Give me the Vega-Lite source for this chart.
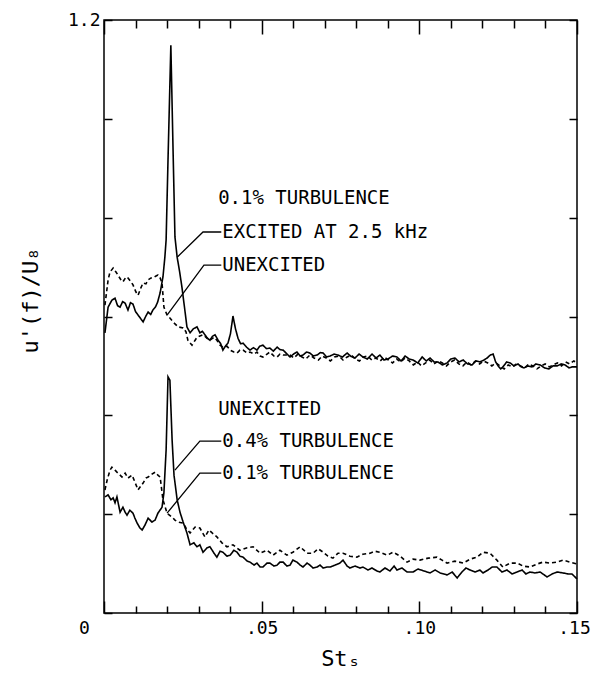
{
  "$schema": "https://vega.github.io/schema/vega-lite/v6.json",
  "width": 473,
  "height": 593,
  "autosize": "none",
  "padding": {"left": 104, "top": 20, "right": 16, "bottom": 77},
  "background": "white",
  "config": {
    "view": {"stroke": "black", "strokeWidth": 1.5},
    "font": "DejaVu Sans Mono",
    "axis": {"labelFont": "DejaVu Sans Mono", "titleFont": "DejaVu Sans Mono", "labelColor": "black", "titleColor": "black", "tickColor": "black", "domain": false, "grid": false, "ticks": true, "titleFontWeight": "normal"}
  },
  "datasets": {
    "curves": [
      {"series":"A","St":0.0003,"u":0.567},{"series":"A","St":0.0013,"u":0.619},{"series":"A","St":0.0025,"u":0.633},{"series":"A","St":0.0035,"u":0.637},{"series":"A","St":0.0043,"u":0.622},{"series":"A","St":0.0051,"u":0.619},{"series":"A","St":0.0059,"u":0.630},{"series":"A","St":0.0067,"u":0.627},{"series":"A","St":0.0076,"u":0.613},{"series":"A","St":0.0084,"u":0.628},{"series":"A","St":0.0092,"u":0.625},{"series":"A","St":0.0100,"u":0.610},{"series":"A","St":0.0108,"u":0.603},{"series":"A","St":0.0116,"u":0.596},{"series":"A","St":0.0124,"u":0.589},{"series":"A","St":0.0132,"u":0.600},{"series":"A","St":0.0140,"u":0.609},{"series":"A","St":0.0148,"u":0.604},{"series":"A","St":0.0155,"u":0.613},{"series":"A","St":0.0163,"u":0.619},{"series":"A","St":0.0170,"u":0.629},{"series":"A","St":0.0178,"u":0.648},{"series":"A","St":0.0187,"u":0.680},{"series":"A","St":0.0193,"u":0.720},{"series":"A","St":0.0197,"u":0.755},{"series":"A","St":0.0203,"u":0.917},{"series":"A","St":0.0212,"u":1.149},{"series":"A","St":0.0219,"u":0.937},{"series":"A","St":0.0225,"u":0.761},{"series":"A","St":0.0232,"u":0.720},{"series":"A","St":0.0240,"u":0.690},{"series":"A","St":0.0247,"u":0.660},{"series":"A","St":0.0255,"u":0.620},{"series":"A","St":0.0263,"u":0.579},{"series":"A","St":0.0273,"u":0.567},{"series":"A","St":0.0283,"u":0.575},{"series":"A","St":0.0295,"u":0.579},{"series":"A","St":0.0304,"u":0.567},{"series":"A","St":0.0312,"u":0.570},{"series":"A","St":0.0320,"u":0.563},{"series":"A","St":0.0328,"u":0.556},{"series":"A","St":0.0336,"u":0.552},{"series":"A","St":0.0344,"u":0.560},{"series":"A","St":0.0352,"u":0.563},{"series":"A","St":0.0362,"u":0.552},{"series":"A","St":0.0370,"u":0.545},{"series":"A","St":0.0377,"u":0.532},{"series":"A","St":0.0385,"u":0.540},{"series":"A","St":0.0393,"u":0.546},{"series":"A","St":0.0401,"u":0.565},{"series":"A","St":0.0409,"u":0.601},{"series":"A","St":0.0417,"u":0.575},{"series":"A","St":0.0425,"u":0.556},{"series":"A","St":0.0433,"u":0.545},{"series":"A","St":0.0441,"u":0.546},{"series":"A","St":0.0452,"u":0.538},{"series":"A","St":0.0463,"u":0.532},{"series":"A","St":0.0474,"u":0.537},{"series":"A","St":0.0485,"u":0.532},{"series":"A","St":0.0494,"u":0.540},{"series":"A","St":0.0504,"u":0.542},{"series":"A","St":0.0515,"u":0.535},{"series":"A","St":0.0526,"u":0.536},{"series":"A","St":0.0537,"u":0.530},{"series":"A","St":0.0549,"u":0.538},{"series":"A","St":0.0558,"u":0.533},{"series":"A","St":0.0568,"u":0.532},{"series":"A","St":0.0579,"u":0.525},{"series":"A","St":0.0590,"u":0.518},{"series":"A","St":0.0601,"u":0.524},{"series":"A","St":0.0612,"u":0.528},{"series":"A","St":0.0622,"u":0.520},{"series":"A","St":0.0631,"u":0.522},{"series":"A","St":0.0642,"u":0.528},{"series":"A","St":0.0653,"u":0.526},{"series":"A","St":0.0664,"u":0.520},{"series":"A","St":0.0676,"u":0.522},{"series":"A","St":0.0686,"u":0.527},{"series":"A","St":0.0695,"u":0.526},{"series":"A","St":0.0706,"u":0.518},{"series":"A","St":0.0717,"u":0.520},{"series":"A","St":0.0730,"u":0.524},{"series":"A","St":0.0742,"u":0.522},{"series":"A","St":0.0756,"u":0.518},{"series":"A","St":0.0771,"u":0.526},{"series":"A","St":0.0784,"u":0.519},{"series":"A","St":0.0796,"u":0.516},{"series":"A","St":0.0809,"u":0.524},{"series":"A","St":0.0821,"u":0.518},{"series":"A","St":0.0835,"u":0.514},{"series":"A","St":0.0850,"u":0.524},{"series":"A","St":0.0863,"u":0.516},{"series":"A","St":0.0875,"u":0.522},{"series":"A","St":0.0888,"u":0.512},{"series":"A","St":0.0901,"u":0.514},{"series":"A","St":0.0915,"u":0.520},{"series":"A","St":0.0929,"u":0.518},{"series":"A","St":0.0942,"u":0.510},{"series":"A","St":0.0955,"u":0.520},{"series":"A","St":0.0968,"u":0.514},{"series":"A","St":0.0980,"u":0.512},{"series":"A","St":0.0995,"u":0.506},{"series":"A","St":0.1009,"u":0.518},{"series":"A","St":0.1022,"u":0.510},{"series":"A","St":0.1034,"u":0.516},{"series":"A","St":0.1047,"u":0.508},{"series":"A","St":0.1059,"u":0.508},{"series":"A","St":0.1073,"u":0.502},{"series":"A","St":0.1088,"u":0.506},{"series":"A","St":0.1100,"u":0.514},{"series":"A","St":0.1113,"u":0.516},{"series":"A","St":0.1126,"u":0.508},{"series":"A","St":0.1139,"u":0.512},{"series":"A","St":0.1153,"u":0.504},{"series":"A","St":0.1167,"u":0.502},{"series":"A","St":0.1180,"u":0.510},{"series":"A","St":0.1192,"u":0.508},{"series":"A","St":0.1205,"u":0.512},{"series":"A","St":0.1215,"u":0.516},{"series":"A","St":0.1225,"u":0.522},{"series":"A","St":0.1234,"u":0.524},{"series":"A","St":0.1242,"u":0.508},{"series":"A","St":0.1250,"u":0.500},{"series":"A","St":0.1258,"u":0.494},{"series":"A","St":0.1265,"u":0.498},{"series":"A","St":0.1277,"u":0.508},{"series":"A","St":0.1288,"u":0.506},{"series":"A","St":0.1300,"u":0.500},{"series":"A","St":0.1313,"u":0.504},{"series":"A","St":0.1323,"u":0.498},{"series":"A","St":0.1332,"u":0.496},{"series":"A","St":0.1345,"u":0.500},{"series":"A","St":0.1357,"u":0.498},{"series":"A","St":0.1370,"u":0.504},{"series":"A","St":0.1383,"u":0.502},{"series":"A","St":0.1397,"u":0.496},{"series":"A","St":0.1411,"u":0.494},{"series":"A","St":0.1424,"u":0.500},{"series":"A","St":0.1437,"u":0.500},{"series":"A","St":0.1450,"u":0.504},{"series":"A","St":0.1462,"u":0.502},{"series":"A","St":0.1475,"u":0.496},{"series":"A","St":0.1484,"u":0.498},{"series":"A","St":0.1500,"u":0.498},

      {"series":"B","St":0.0003,"u":0.623},{"series":"B","St":0.0013,"u":0.674},{"series":"B","St":0.0019,"u":0.690},{"series":"B","St":0.0029,"u":0.698},{"series":"B","St":0.0038,"u":0.690},{"series":"B","St":0.0044,"u":0.684},{"series":"B","St":0.0054,"u":0.674},{"series":"B","St":0.0060,"u":0.670},{"series":"B","St":0.0070,"u":0.680},{"series":"B","St":0.0076,"u":0.678},{"series":"B","St":0.0086,"u":0.670},{"series":"B","St":0.0092,"u":0.664},{"series":"B","St":0.0101,"u":0.650},{"series":"B","St":0.0108,"u":0.643},{"series":"B","St":0.0117,"u":0.658},{"series":"B","St":0.0124,"u":0.668},{"series":"B","St":0.0133,"u":0.666},{"series":"B","St":0.0140,"u":0.674},{"series":"B","St":0.0149,"u":0.678},{"series":"B","St":0.0155,"u":0.678},{"series":"B","St":0.0165,"u":0.682},{"series":"B","St":0.0171,"u":0.684},{"series":"B","St":0.0178,"u":0.678},{"series":"B","St":0.0184,"u":0.668},{"series":"B","St":0.0190,"u":0.619},{"series":"B","St":0.0200,"u":0.603},{"series":"B","St":0.0209,"u":0.597},{"series":"B","St":0.0219,"u":0.589},{"series":"B","St":0.0235,"u":0.579},{"series":"B","St":0.0251,"u":0.577},{"series":"B","St":0.0260,"u":0.569},{"series":"B","St":0.0266,"u":0.552},{"series":"B","St":0.0279,"u":0.542},{"series":"B","St":0.0289,"u":0.552},{"series":"B","St":0.0295,"u":0.558},{"series":"B","St":0.0314,"u":0.563},{"series":"B","St":0.0327,"u":0.556},{"series":"B","St":0.0336,"u":0.552},{"series":"B","St":0.0349,"u":0.558},{"series":"B","St":0.0358,"u":0.552},{"series":"B","St":0.0368,"u":0.542},{"series":"B","St":0.0377,"u":0.538},{"series":"B","St":0.0390,"u":0.540},{"series":"B","St":0.0400,"u":0.532},{"series":"B","St":0.0412,"u":0.528},{"series":"B","St":0.0422,"u":0.526},{"series":"B","St":0.0431,"u":0.532},{"series":"B","St":0.0441,"u":0.532},{"series":"B","St":0.0454,"u":0.526},{"series":"B","St":0.0463,"u":0.528},{"series":"B","St":0.0476,"u":0.524},{"series":"B","St":0.0485,"u":0.528},{"series":"B","St":0.0495,"u":0.520},{"series":"B","St":0.0504,"u":0.518},{"series":"B","St":0.0517,"u":0.524},{"series":"B","St":0.0526,"u":0.528},{"series":"B","St":0.0539,"u":0.520},{"series":"B","St":0.0549,"u":0.518},{"series":"B","St":0.0558,"u":0.524},{"series":"B","St":0.0568,"u":0.522},{"series":"B","St":0.0590,"u":0.522},{"series":"B","St":0.0602,"u":0.516},{"series":"B","St":0.0615,"u":0.524},{"series":"B","St":0.0628,"u":0.518},{"series":"B","St":0.0640,"u":0.514},{"series":"B","St":0.0653,"u":0.522},{"series":"B","St":0.0666,"u":0.516},{"series":"B","St":0.0680,"u":0.512},{"series":"B","St":0.0692,"u":0.520},{"series":"B","St":0.0705,"u":0.516},{"series":"B","St":0.0718,"u":0.510},{"series":"B","St":0.0731,"u":0.518},{"series":"B","St":0.0745,"u":0.520},{"series":"B","St":0.0758,"u":0.512},{"series":"B","St":0.0771,"u":0.518},{"series":"B","St":0.0784,"u":0.522},{"series":"B","St":0.0797,"u":0.514},{"series":"B","St":0.0810,"u":0.510},{"series":"B","St":0.0823,"u":0.518},{"series":"B","St":0.0836,"u":0.520},{"series":"B","St":0.0849,"u":0.512},{"series":"B","St":0.0862,"u":0.516},{"series":"B","St":0.0876,"u":0.510},{"series":"B","St":0.0889,"u":0.518},{"series":"B","St":0.0902,"u":0.512},{"series":"B","St":0.0915,"u":0.506},{"series":"B","St":0.0928,"u":0.514},{"series":"B","St":0.0941,"u":0.508},{"series":"B","St":0.0955,"u":0.516},{"series":"B","St":0.0968,"u":0.510},{"series":"B","St":0.0981,"u":0.502},{"series":"B","St":0.0994,"u":0.508},{"series":"B","St":0.1007,"u":0.500},{"series":"B","St":0.1020,"u":0.506},{"series":"B","St":0.1033,"u":0.512},{"series":"B","St":0.1046,"u":0.504},{"series":"B","St":0.1060,"u":0.510},{"series":"B","St":0.1073,"u":0.506},{"series":"B","St":0.1086,"u":0.500},{"series":"B","St":0.1099,"u":0.508},{"series":"B","St":0.1112,"u":0.512},{"series":"B","St":0.1125,"u":0.504},{"series":"B","St":0.1138,"u":0.500},{"series":"B","St":0.1151,"u":0.508},{"series":"B","St":0.1164,"u":0.502},{"series":"B","St":0.1178,"u":0.510},{"series":"B","St":0.1191,"u":0.504},{"series":"B","St":0.1204,"u":0.510},{"series":"B","St":0.1217,"u":0.506},{"series":"B","St":0.1230,"u":0.500},{"series":"B","St":0.1243,"u":0.506},{"series":"B","St":0.1256,"u":0.500},{"series":"B","St":0.1269,"u":0.494},{"series":"B","St":0.1282,"u":0.502},{"series":"B","St":0.1295,"u":0.498},{"series":"B","St":0.1308,"u":0.504},{"series":"B","St":0.1321,"u":0.500},{"series":"B","St":0.1334,"u":0.496},{"series":"B","St":0.1347,"u":0.504},{"series":"B","St":0.1360,"u":0.500},{"series":"B","St":0.1373,"u":0.494},{"series":"B","St":0.1386,"u":0.500},{"series":"B","St":0.1399,"u":0.504},{"series":"B","St":0.1412,"u":0.498},{"series":"B","St":0.1425,"u":0.502},{"series":"B","St":0.1438,"u":0.506},{"series":"B","St":0.1451,"u":0.500},{"series":"B","St":0.1464,"u":0.508},{"series":"B","St":0.1477,"u":0.504},{"series":"B","St":0.1490,"u":0.510},{"series":"B","St":0.1500,"u":0.506},

      {"series":"C","St":0.0003,"u":0.235},{"series":"C","St":0.0013,"u":0.239},{"series":"C","St":0.0022,"u":0.229},{"series":"C","St":0.0029,"u":0.233},{"series":"C","St":0.0035,"u":0.223},{"series":"C","St":0.0041,"u":0.235},{"series":"C","St":0.0051,"u":0.204},{"series":"C","St":0.0060,"u":0.214},{"series":"C","St":0.0067,"u":0.204},{"series":"C","St":0.0073,"u":0.198},{"series":"C","St":0.0082,"u":0.208},{"series":"C","St":0.0092,"u":0.202},{"series":"C","St":0.0098,"u":0.192},{"series":"C","St":0.0105,"u":0.182},{"series":"C","St":0.0114,"u":0.172},{"series":"C","St":0.0121,"u":0.168},{"series":"C","St":0.0130,"u":0.178},{"series":"C","St":0.0140,"u":0.192},{"series":"C","St":0.0152,"u":0.184},{"series":"C","St":0.0162,"u":0.188},{"series":"C","St":0.0171,"u":0.202},{"series":"C","St":0.0184,"u":0.214},{"series":"C","St":0.0190,"u":0.243},{"series":"C","St":0.0197,"u":0.330},{"series":"C","St":0.0203,"u":0.478},{"series":"C","St":0.0209,"u":0.471},{"series":"C","St":0.0216,"u":0.350},{"series":"C","St":0.0222,"u":0.279},{"series":"C","St":0.0232,"u":0.229},{"series":"C","St":0.0241,"u":0.204},{"series":"C","St":0.0251,"u":0.184},{"series":"C","St":0.0263,"u":0.162},{"series":"C","St":0.0273,"u":0.138},{"series":"C","St":0.0285,"u":0.142},{"series":"C","St":0.0295,"u":0.134},{"series":"C","St":0.0304,"u":0.138},{"series":"C","St":0.0314,"u":0.123},{"series":"C","St":0.0327,"u":0.132},{"series":"C","St":0.0336,"u":0.134},{"series":"C","St":0.0349,"u":0.121},{"series":"C","St":0.0358,"u":0.113},{"series":"C","St":0.0368,"u":0.125},{"series":"C","St":0.0377,"u":0.123},{"series":"C","St":0.0390,"u":0.115},{"series":"C","St":0.0400,"u":0.117},{"series":"C","St":0.0412,"u":0.127},{"series":"C","St":0.0422,"u":0.123},{"series":"C","St":0.0431,"u":0.115},{"series":"C","St":0.0441,"u":0.113},{"series":"C","St":0.0454,"u":0.105},{"series":"C","St":0.0463,"u":0.103},{"series":"C","St":0.0476,"u":0.097},{"series":"C","St":0.0485,"u":0.101},{"series":"C","St":0.0495,"u":0.093},{"series":"C","St":0.0504,"u":0.093},{"series":"C","St":0.0517,"u":0.101},{"series":"C","St":0.0526,"u":0.101},{"series":"C","St":0.0539,"u":0.095},{"series":"C","St":0.0549,"u":0.097},{"series":"C","St":0.0558,"u":0.103},{"series":"C","St":0.0568,"u":0.103},{"series":"C","St":0.0580,"u":0.095},{"series":"C","St":0.0590,"u":0.097},{"series":"C","St":0.0599,"u":0.107},{"series":"C","St":0.0612,"u":0.103},{"series":"C","St":0.0622,"u":0.097},{"series":"C","St":0.0631,"u":0.093},{"series":"C","St":0.0644,"u":0.101},{"series":"C","St":0.0653,"u":0.097},{"series":"C","St":0.0663,"u":0.091},{"series":"C","St":0.0676,"u":0.093},{"series":"C","St":0.0685,"u":0.097},{"series":"C","St":0.0695,"u":0.091},{"series":"C","St":0.0707,"u":0.093},{"series":"C","St":0.0717,"u":0.093},{"series":"C","St":0.0733,"u":0.097},{"series":"C","St":0.0748,"u":0.101},{"series":"C","St":0.0758,"u":0.107},{"series":"C","St":0.0771,"u":0.095},{"series":"C","St":0.0780,"u":0.091},{"series":"C","St":0.0796,"u":0.095},{"series":"C","St":0.0812,"u":0.091},{"series":"C","St":0.0821,"u":0.093},{"series":"C","St":0.0837,"u":0.087},{"series":"C","St":0.0850,"u":0.091},{"series":"C","St":0.0866,"u":0.085},{"series":"C","St":0.0875,"u":0.083},{"series":"C","St":0.0891,"u":0.091},{"series":"C","St":0.0907,"u":0.085},{"series":"C","St":0.0920,"u":0.095},{"series":"C","St":0.0929,"u":0.087},{"series":"C","St":0.0945,"u":0.091},{"series":"C","St":0.0961,"u":0.083},{"series":"C","St":0.0980,"u":0.083},{"series":"C","St":0.0996,"u":0.089},{"series":"C","St":0.1015,"u":0.085},{"series":"C","St":0.1034,"u":0.081},{"series":"C","St":0.1050,"u":0.087},{"series":"C","St":0.1066,"u":0.081},{"series":"C","St":0.1088,"u":0.077},{"series":"C","St":0.1104,"u":0.083},{"series":"C","St":0.1120,"u":0.071},{"series":"C","St":0.1135,"u":0.083},{"series":"C","St":0.1148,"u":0.091},{"series":"C","St":0.1161,"u":0.087},{"series":"C","St":0.1177,"u":0.083},{"series":"C","St":0.1192,"u":0.087},{"series":"C","St":0.1202,"u":0.081},{"series":"C","St":0.1218,"u":0.087},{"series":"C","St":0.1231,"u":0.093},{"series":"C","St":0.1246,"u":0.093},{"series":"C","St":0.1262,"u":0.083},{"series":"C","St":0.1278,"u":0.087},{"series":"C","St":0.1294,"u":0.079},{"series":"C","St":0.1310,"u":0.083},{"series":"C","St":0.1326,"u":0.087},{"series":"C","St":0.1338,"u":0.079},{"series":"C","St":0.1351,"u":0.083},{"series":"C","St":0.1367,"u":0.081},{"series":"C","St":0.1383,"u":0.083},{"series":"C","St":0.1405,"u":0.073},{"series":"C","St":0.1421,"u":0.079},{"series":"C","St":0.1437,"u":0.083},{"series":"C","St":0.1456,"u":0.081},{"series":"C","St":0.1472,"u":0.079},{"series":"C","St":0.1484,"u":0.079},{"series":"C","St":0.1500,"u":0.069},

      {"series":"D","St":0.0003,"u":0.249},{"series":"D","St":0.0010,"u":0.269},{"series":"D","St":0.0019,"u":0.289},{"series":"D","St":0.0025,"u":0.295},{"series":"D","St":0.0035,"u":0.289},{"series":"D","St":0.0041,"u":0.285},{"series":"D","St":0.0051,"u":0.279},{"series":"D","St":0.0057,"u":0.275},{"series":"D","St":0.0067,"u":0.283},{"series":"D","St":0.0076,"u":0.273},{"series":"D","St":0.0089,"u":0.279},{"series":"D","St":0.0098,"u":0.265},{"series":"D","St":0.0108,"u":0.249},{"series":"D","St":0.0117,"u":0.257},{"series":"D","St":0.0124,"u":0.263},{"series":"D","St":0.0133,"u":0.273},{"series":"D","St":0.0140,"u":0.275},{"series":"D","St":0.0152,"u":0.281},{"series":"D","St":0.0162,"u":0.285},{"series":"D","St":0.0171,"u":0.279},{"series":"D","St":0.0178,"u":0.275},{"series":"D","St":0.0187,"u":0.229},{"series":"D","St":0.0200,"u":0.202},{"series":"D","St":0.0216,"u":0.194},{"series":"D","St":0.0225,"u":0.188},{"series":"D","St":0.0235,"u":0.184},{"series":"D","St":0.0251,"u":0.182},{"series":"D","St":0.0260,"u":0.172},{"series":"D","St":0.0273,"u":0.162},{"series":"D","St":0.0289,"u":0.174},{"series":"D","St":0.0304,"u":0.172},{"series":"D","St":0.0320,"u":0.154},{"series":"D","St":0.0333,"u":0.168},{"series":"D","St":0.0343,"u":0.162},{"series":"D","St":0.0358,"u":0.154},{"series":"D","St":0.0374,"u":0.142},{"series":"D","St":0.0390,"u":0.134},{"series":"D","St":0.0409,"u":0.138},{"series":"D","St":0.0431,"u":0.127},{"series":"D","St":0.0454,"u":0.132},{"series":"D","St":0.0473,"u":0.134},{"series":"D","St":0.0495,"u":0.121},{"series":"D","St":0.0517,"u":0.127},{"series":"D","St":0.0536,"u":0.117},{"series":"D","St":0.0558,"u":0.127},{"series":"D","St":0.0580,"u":0.117},{"series":"D","St":0.0599,"u":0.123},{"series":"D","St":0.0622,"u":0.134},{"series":"D","St":0.0644,"u":0.121},{"series":"D","St":0.0663,"u":0.121},{"series":"D","St":0.0679,"u":0.130},{"series":"D","St":0.0695,"u":0.123},{"series":"D","St":0.0710,"u":0.115},{"series":"D","St":0.0726,"u":0.111},{"series":"D","St":0.0742,"u":0.121},{"series":"D","St":0.0758,"u":0.121},{"series":"D","St":0.0780,"u":0.115},{"series":"D","St":0.0802,"u":0.113},{"series":"D","St":0.0821,"u":0.119},{"series":"D","St":0.0844,"u":0.121},{"series":"D","St":0.0859,"u":0.125},{"series":"D","St":0.0875,"u":0.123},{"series":"D","St":0.0898,"u":0.117},{"series":"D","St":0.0917,"u":0.123},{"series":"D","St":0.0939,"u":0.115},{"series":"D","St":0.0961,"u":0.103},{"series":"D","St":0.0980,"u":0.109},{"series":"D","St":0.1002,"u":0.107},{"series":"D","St":0.1028,"u":0.111},{"series":"D","St":0.1056,"u":0.113},{"series":"D","St":0.1072,"u":0.107},{"series":"D","St":0.1088,"u":0.101},{"series":"D","St":0.1113,"u":0.105},{"series":"D","St":0.1139,"u":0.101},{"series":"D","St":0.1161,"u":0.109},{"series":"D","St":0.1183,"u":0.113},{"series":"D","St":0.1202,"u":0.123},{"series":"D","St":0.1224,"u":0.121},{"series":"D","St":0.1246,"u":0.107},{"series":"D","St":0.1265,"u":0.093},{"series":"D","St":0.1288,"u":0.101},{"series":"D","St":0.1310,"u":0.101},{"series":"D","St":0.1329,"u":0.095},{"series":"D","St":0.1351,"u":0.093},{"series":"D","St":0.1373,"u":0.099},{"series":"D","St":0.1392,"u":0.103},{"series":"D","St":0.1415,"u":0.101},{"series":"D","St":0.1437,"u":0.103},{"series":"D","St":0.1456,"u":0.107},{"series":"D","St":0.1478,"u":0.103},{"series":"D","St":0.1500,"u":0.099}
    ],
    "labels": [
      {"label": "0.1% TURBULENCE", "St": 0.0362, "u": 0.840},
      {"label": "EXCITED AT 2.5 kHz", "St": 0.0375, "u": 0.771},
      {"label": "UNEXCITED", "St": 0.0375, "u": 0.704},
      {"label": "UNEXCITED", "St": 0.0362, "u": 0.413},
      {"label": "0.4% TURBULENCE", "St": 0.0375, "u": 0.348},
      {"label": "0.1% TURBULENCE", "St": 0.0375, "u": 0.283}
    ],
    "leaders": [
      {"leader": "a", "pt": 1, "St": 0.0372, "u": 0.771},
      {"leader": "a", "pt": 2, "St": 0.0314, "u": 0.771},
      {"leader": "a", "pt": 3, "St": 0.0232, "u": 0.720},
      {"leader": "b", "pt": 1, "St": 0.0372, "u": 0.704},
      {"leader": "b", "pt": 2, "St": 0.0317, "u": 0.704},
      {"leader": "b", "pt": 3, "St": 0.0200, "u": 0.603},
      {"leader": "c", "pt": 1, "St": 0.0372, "u": 0.348},
      {"leader": "c", "pt": 2, "St": 0.0304, "u": 0.348},
      {"leader": "c", "pt": 3, "St": 0.0225, "u": 0.289},
      {"leader": "d", "pt": 1, "St": 0.0372, "u": 0.283},
      {"leader": "d", "pt": 2, "St": 0.0304, "u": 0.283},
      {"leader": "d", "pt": 3, "St": 0.0200, "u": 0.202}
    ]
  },
  "layer": [
    {
      "data": {"name": "curves"},
      "mark": {"type": "line", "color": "black", "strokeWidth": 1.6},
      "encoding": {
        "x": {
          "field": "St", "type": "quantitative",
          "scale": {"domain": [0, 0.15], "nice": false, "zero": false},
          "axis": {
            "orient": "top",
            "values": [0, 0.01, 0.02, 0.03, 0.04, 0.05, 0.06, 0.07, 0.08, 0.09, 0.1, 0.11, 0.12, 0.13, 0.14, 0.15],
            "tickSize": {"condition": {"test": "abs(datum.value*20 - round(datum.value*20)) < 0.001", "value": -14}, "value": -8},
            "tickWidth": 1.5,
            "labels": false,
            "title": null
          }
        },
        "y": {
          "field": "u", "type": "quantitative",
          "scale": {"domain": [0, 1.2], "nice": false},
          "axis": {
            "orient": "left",
            "values": [0, 0.2, 0.4, 0.6, 0.8, 1.0, 1.2],
            "tickSize": -8,
            "tickWidth": 1.5,
            "labelExpr": "datum.value > 1.1 ? '1.2' : ''",
            "labelFontSize": 18,
            "labelPadding": 12,
            "labelOverlap": false,
            "title": "u'(f)/U₈",
            "titleFontSize": 22,
            "titleX": -62,
            "titleY": 280
          }
        },
        "detail": {"field": "series"},
        "strokeDash": {"field": "series", "type": "nominal", "scale": {"domain": ["A", "B", "C", "D"], "range": [[1, 0], [4, 3], [1, 0], [4, 3]]}, "legend": null}
      }
    },
    {
      "data": {"name": "labels"},
      "mark": {"type": "text", "align": "left", "baseline": "middle", "font": "DejaVu Sans Mono", "fontSize": 19, "color": "black"},
      "encoding": {
        "x": {
          "field": "St", "type": "quantitative",
          "axis": {
            "orient": "bottom",
            "values": [0, 0.01, 0.02, 0.03, 0.04, 0.05, 0.06, 0.07, 0.08, 0.09, 0.1, 0.11, 0.12, 0.13, 0.14, 0.15],
            "tickSize": {"condition": {"test": "abs(datum.value*20 - round(datum.value*20)) < 0.001", "value": -12}, "value": -7},
            "tickWidth": 1.5,
            "labelExpr": "datum.value == 0 ? '0' : (abs(datum.value*20 - round(datum.value*20)) < 0.001 ? replace(format(datum.value, '.2f'), '0.', '.') : '')",
            "labelOffset": {"condition": [{"test": "datum.value == 0", "value": -20}, {"test": "datum.value > 0.14", "value": -3}], "value": 0},
            "labelFontSize": 18,
            "labelPadding": 18,
            "labelFlush": false,
            "labelOverlap": false,
            "title": "Stₛ",
            "titleFontSize": 22,
            "titlePadding": 6
          }
        },
        "y": {
          "field": "u", "type": "quantitative",
          "axis": {
            "orient": "right",
            "values": [0, 0.2, 0.4, 0.6, 0.8, 1.0, 1.2],
            "tickSize": -8,
            "tickWidth": 1.5,
            "labels": false,
            "title": null
          }
        },
        "text": {"field": "label"}
      }
    },
    {
      "data": {"name": "leaders"},
      "mark": {"type": "line", "color": "black", "strokeWidth": 1.3},
      "encoding": {
        "x": {"field": "St", "type": "quantitative", "axis": null},
        "y": {"field": "u", "type": "quantitative", "axis": null},
        "detail": {"field": "leader"},
        "order": {"field": "pt"}
      }
    }
  ],
  "resolve": {"axis": {"x": "independent", "y": "independent"}}
}
